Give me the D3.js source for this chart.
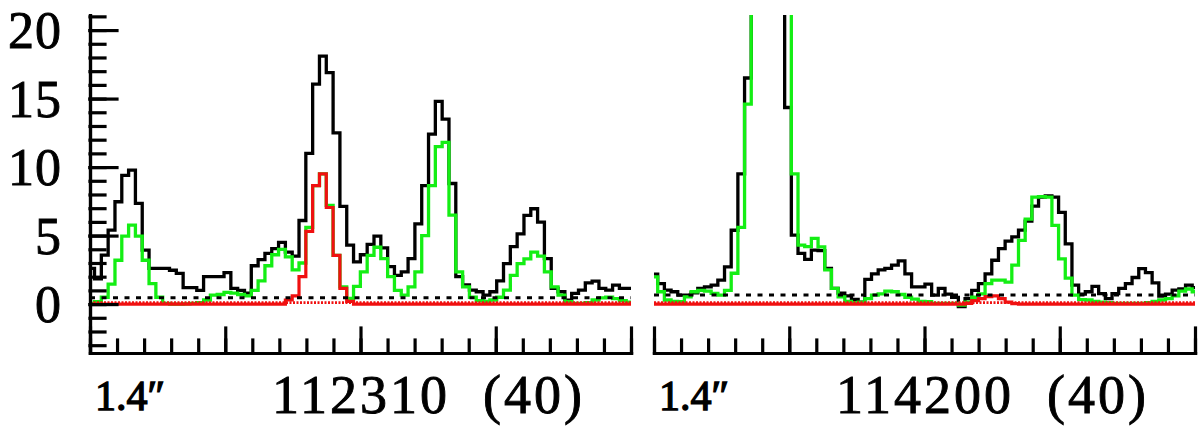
<!DOCTYPE html>
<html lang="en">
<head>
<meta charset="UTF-8">
<title>Spectra 112310 / 114200</title>
<style>
  body { margin: 0; background: #fff; }
  svg { display: block; }
  .lbl { font-family: "Liberation Serif", "Times New Roman", serif; fill: #000; stroke: #000; stroke-width: 0.9px; }
</style>
</head>
<body>
<svg id="chart" width="1200" height="426"></svg>
<script src="https://d3js.org/d3.v7.min.js"></script>
<script>
// channel grid (km/s) for each panel
const leftStart = -20.17, leftStep = 0.504;
const rightStart = -20.22, rightStep = 0.494;

// 112310 panel
const leftBlack = [2.6, 1.85, 3.58, 5.4, 7.47, 9.4, 9.78, 7.35, 3.94, 2.6,
  2.6, 2.6, 2.47, 2.24, 1.2, 1.2, 1.0, 2.0, 2.0, 2.0,
  2.3, 1.14, 1.0, 0.8, 2.8, 3.25, 3.7, 4.05, 4.5, 3.8,
  3.5, 6.1, 11.0, 16.05, 18.1, 16.9, 12.5, 7.13, 4.3, 3.08,
  3.6, 4.36, 4.96, 4.1, 2.73, 2.1, 2.35, 3.32, 5.85, 8.65,
  12.4, 14.8, 13.5, 8.8, 2.0, 1.4, 1.02, 0.9, 0.65, 0.9,
  1.7, 2.95, 4.2, 5.13, 6.47, 6.96, 5.98, 3.32, 1.14, 0.9,
  0.29, 0.78, 1.02, 1.55, 1.67, 1.14, 1.02, 1.38, 1.14, 1.14];
const leftGreen = [0.05, 0.17, 0.5, 1.46, 3.2, 4.96, 5.76, 4.96, 3.2, 1.5,
  0.5, 0.05, 0.0, 0.0, 0.02, 0.05, 0.1, 0.3, 0.65, 0.7,
  0.85, 0.8, 0.7, 0.6, 1.0, 1.7, 2.8, 3.6, 4.0, 3.45,
  2.5, 3.0, 5.6, 8.65, 9.5, 7.2, 3.56, 1.26, 0.41, 1.3,
  2.35, 3.56, 4.15, 3.32, 2.0, 1.0, 0.65, 1.26, 2.35, 5.0,
  8.65, 11.5, 11.8, 6.5, 2.35, 1.26, 0.5, 0.25, 0.2, 0.3,
  0.5, 1.02, 2.1, 2.95, 3.3, 3.8, 3.5, 2.35, 1.26, 0.65,
  0.17, 0.05, 0.05, 0.1, 0.3, 0.45, 0.5, 0.4, 0.25, 0.15];
const leftRed = [0, 0, 0, 0, 0, 0, 0, 0, 0, 0,
  0, 0, 0, 0, 0, 0, 0, 0, 0, 0,
  0, 0, 0, 0, 0, 0, 0, 0, 0, 0.3,
  0.6, 2.0, 5.3, 8.65, 9.5, 7.05, 3.56, 1.14, 0.2, 0,
  0, 0, 0, 0, 0, 0, 0, 0, 0, 0,
  0, 0, 0, 0, 0, 0, 0, 0, 0, 0,
  0, 0, 0, 0, 0, 0, 0, 0, 0, 0,
  0, 0, 0, 0, 0, 0, 0, 0, 0, 0];
const leftLevel = 0.47;

// 114200 panel
const rightBlack = [2.18, 1.5, 1.02, 0.9, 0.65, 0.65, 0.82, 1.14, 1.26, 1.38,
  1.75, 2.72, 5.39, 9.5, 16.5, 32, 48, 52, 44, 30,
  14.35, 5.04, 3.7, 3.26, 3.94, 3.9, 2.6, 1.14, 0.8, 0.6,
  0.35, 0.15, 1.8, 2.2, 2.5, 2.6, 2.84, 3.15, 2.2, 1.26,
  1.26, 1.45, 0.65, 1.14, 0.73, 0.49, -0.19, 0.4, 1.0, 1.5,
  2.2, 3.2, 4.05, 4.6, 4.9, 5.4, 6.05, 7.15, 7.8, 7.9,
  7.8, 6.7, 4.4, 1.38, 0.73, 0.9, 1.3, 0.77, 0.4, 0.77,
  1.14, 1.5, 1.94, 2.59, 2.3, 1.55, 0.58, 0.73, 1.02, 1.1,
  1.38, 1.2];
const rightGreen = [1.99, 0.9, 0.3, 0.2, 0.17, 0.53, 0.9, 1.0, 0.95, 0.78,
  0.65, 1.0, 2.25, 5.6, 14.6, 36, 50, 55, 48, 36,
  24, 9.5, 4.3, 4.2, 4.8, 4.17, 2.5, 1.14, 0.53, 0.2,
  0.1, 0.15, 0.4, 0.65, 0.75, 0.95, 0.9, 0.7, 0.5, 0.36,
  0.2, 0.17, 0.05, 0.05, 0.05, 0.05, -0.07, 0.15, 0.5, 0.75,
  1.5, 1.75, 1.75, 1.6, 2.84, 4.65, 6.2, 7.8, 7.85, 7.8,
  5.75, 3.3, 1.9, 0.65, 0.33, 0.3, 0.2, 0.15, 0.1, 0.05,
  0.05, 0.05, 0.05, 0.05, 0.1, 0.2, 0.3, 0.4, 0.6, 0.95,
  1.1, 0.9];
const rightRed = [0, 0, 0, 0, 0, 0, 0, 0, 0, 0,
  0, 0, 0, 0, 0, 0, 0, 0, 0, 0,
  0, 0, 0, 0, 0, 0, 0, 0, 0, 0,
  0, 0, 0, 0, 0, 0, 0, 0, 0, 0,
  0, 0, 0, 0, 0, 0, 0, 0.05, 0.25, 0.4,
  0.55, 0.6, 0.4, 0.15, 0.03, 0, 0, 0, 0, 0,
  0, 0, 0, 0, 0, 0, 0, 0, 0, 0,
  0, 0, 0, 0, 0, 0, 0, 0, 0, 0,
  0, 0];
const rightLevel = 0.66;

const yMajor = [0, 5, 10, 15, 20];
const yMinor = d3.range(-3, 22, 1);
const xMajor = [-20, -10, 0, 10, 20];
const xMinor = d3.range(-20, 21, 2);

const panels = [
  {id: "L", x0: 90, x1: 631, start: leftStart, step: leftStep,
   black: leftBlack, green: leftGreen, red: leftRed, level: leftLevel,
   beam: "1.4\u2033", title: "112310  (40)", yAxis: true},
  {id: "R", x0: 654, x1: 1195, start: rightStart, step: rightStep,
   black: rightBlack, green: rightGreen, red: rightRed, level: rightLevel,
   beam: "1.4\u2033", title: "114200  (40)", yAxis: false}
];

const svg = d3.select("#chart");
const plotTop = 15, plotBottom = 353;
const y = d3.scaleLinear().domain([-3.57, 21.1]).range([plotBottom, plotTop]);
const defs = svg.append("defs");

panels.forEach(p => {
  const x = d3.scaleLinear().domain([-20, 20]).range([p.x0, p.x1]);

  defs.append("clipPath").attr("id", "clip" + p.id)
    .append("rect").attr("x", p.x0).attr("y", plotTop)
    .attr("width", p.x1 - p.x0).attr("height", plotBottom - plotTop);

  const g = svg.append("g").attr("clip-path", `url(#clip${p.id})`);

  // histogram steps: one point per channel edge, last value repeated
  const stepLine = d3.line()
    .x(d => x(d[0])).y(d => y(d[1]))
    .curve(d3.curveStepAfter);
  const steps = vals => {
    const pts = vals.map((v, i) => [p.start + i * p.step, v]);
    pts.push([p.start + vals.length * p.step, vals[vals.length - 1]]);
    return pts;
  };

  g.append("path").attr("d", stepLine(steps(p.black)))
    .attr("fill", "none").attr("stroke", "#000").attr("stroke-width", 3.3);
  g.append("path").attr("d", stepLine(steps(p.green)))
    .attr("fill", "none").attr("stroke", "#14ee14").attr("stroke-width", 3.3);

  // red zero line (dotted) + red histogram
  g.append("line")
    .attr("x1", x(-20)).attr("x2", x(20))
    .attr("y1", y(0) - 1.5).attr("y2", y(0) - 1.5)
    .attr("stroke", "#f01010").attr("stroke-width", 2.6)
    .attr("stroke-dasharray", "2,1.5");
  g.append("path").attr("d", stepLine(steps(p.red)))
    .attr("fill", "none").attr("stroke", "#f01010").attr("stroke-width", 3.2);

  // dashed level
  g.append("line")
    .attr("x1", x(-20)).attr("x2", x(20))
    .attr("y1", y(p.level)).attr("y2", y(p.level))
    .attr("stroke", "#000").attr("stroke-width", 3)
    .attr("stroke-dasharray", "5,6.5");

  // bottom axis, ticks pointing up
  const ax = svg.append("g").attr("transform", `translate(0,${plotBottom})`);
  ax.call(d3.axisTop(x).tickValues(xMinor).tickSize(13).tickSizeOuter(0).tickFormat(""));
  ax.append("g").call(d3.axisTop(x).tickValues(xMajor).tickSize(25).tickSizeOuter(0).tickFormat(""));
  ax.selectAll("path, line").attr("stroke", "#000").attr("stroke-width", 3.2)
    .attr("stroke-linecap", "square");

  if (p.yAxis) {
    const ay = svg.append("g").attr("transform", `translate(${p.x0},0)`);
    ay.call(d3.axisRight(y).tickValues(yMinor).tickSize(15).tickSizeOuter(0).tickFormat(""));
    ay.append("g").call(d3.axisRight(y).tickValues(yMajor).tickSize(27).tickSizeOuter(0).tickFormat(""));
    ay.selectAll("path, line").attr("stroke", "#000").attr("stroke-width", 3.2)
      .attr("stroke-linecap", "square");
    const lab = svg.append("g").attr("transform", `translate(${p.x0},0)`)
      .call(d3.axisLeft(y).tickValues(yMajor).tickSize(0).tickPadding(28));
    lab.select(".domain").remove();
    lab.selectAll("text").attr("class", "lbl").style("font-size", "52px")
      .style("letter-spacing", "1px").attr("dy", "0.34em");
  }

  svg.append("text").attr("class", "lbl")
    .attr("x", p.x0 + 5).attr("y", 410)
    .style("font-size", "42px").style("stroke-width", "1.3px")
    .text(p.beam);
  svg.append("text").attr("class", "lbl")
    .attr("x", p.x0 + 182).attr("y", 413)
    .style("font-size", "54px").style("letter-spacing", "3px")
    .style("white-space", "pre")
    .text(p.title);
});
</script>
</body>
</html>
